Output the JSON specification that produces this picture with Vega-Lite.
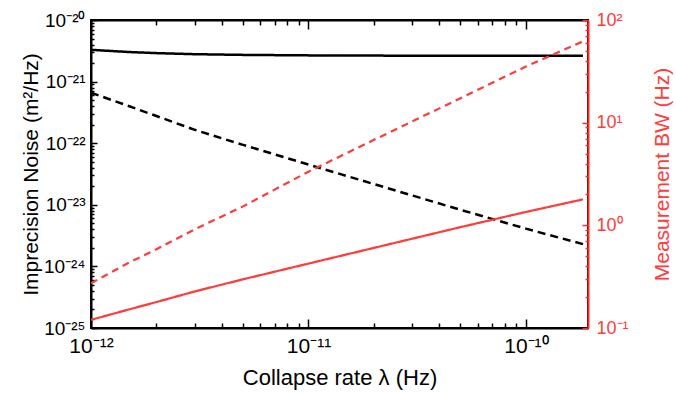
{
  "$schema": "https://vega.github.io/schema/vega-lite/v6.json",
  "width": 497,
  "height": 308,
  "autosize": "none",
  "padding": {"left": 91, "top": 20, "right": 88, "bottom": 65},
  "background": "white",
  "config": {
    "view": {"stroke": "black", "strokeWidth": 2},
    "font": "Liberation Sans",
    "axis": {"grid": false, "labelOverlap": false, "labelFlush": false, "titleFontWeight": "normal"}
  },
  "datasets": {
    "noise": [
      {"lambda": 1e-12, "value": 3.28e-21, "style": "total"},
      {"lambda": 1.5e-12, "value": 3.02e-21, "style": "total"},
      {"lambda": 2e-12, "value": 2.90e-21, "style": "total"},
      {"lambda": 3e-12, "value": 2.785e-21, "style": "total"},
      {"lambda": 5e-12, "value": 2.714e-21, "style": "total"},
      {"lambda": 1e-11, "value": 2.665e-21, "style": "total"},
      {"lambda": 2e-11, "value": 2.642e-21, "style": "total"},
      {"lambda": 5e-11, "value": 2.628e-21, "style": "total"},
      {"lambda": 1e-10, "value": 2.624e-21, "style": "total"},
      {"lambda": 1.83e-10, "value": 2.622e-21, "style": "total"},
      {"lambda": 1e-12, "value": 6.6e-22, "style": "collapse"},
      {"lambda": 1.5e-12, "value": 3.98e-22, "style": "collapse"},
      {"lambda": 2e-12, "value": 2.76e-22, "style": "collapse"},
      {"lambda": 3e-12, "value": 1.65e-22, "style": "collapse"},
      {"lambda": 5e-12, "value": 9.4e-23, "style": "collapse"},
      {"lambda": 1e-11, "value": 4.5e-23, "style": "collapse"},
      {"lambda": 2e-11, "value": 2.17e-23, "style": "collapse"},
      {"lambda": 5e-11, "value": 8.3e-24, "style": "collapse"},
      {"lambda": 1e-10, "value": 4.1e-24, "style": "collapse"},
      {"lambda": 1.83e-10, "value": 2.3e-24, "style": "collapse"}
    ],
    "bw": [
      {"lambda": 1e-12, "value": 0.120, "style": "solid"},
      {"lambda": 1.5e-12, "value": 0.152, "style": "solid"},
      {"lambda": 2e-12, "value": 0.179, "style": "solid"},
      {"lambda": 3e-12, "value": 0.227, "style": "solid"},
      {"lambda": 5e-12, "value": 0.298, "style": "solid"},
      {"lambda": 1e-11, "value": 0.424, "style": "solid"},
      {"lambda": 2e-11, "value": 0.603, "style": "solid"},
      {"lambda": 5e-11, "value": 0.96, "style": "solid"},
      {"lambda": 1e-10, "value": 1.35, "style": "solid"},
      {"lambda": 1.83e-10, "value": 1.79, "style": "solid"},
      {"lambda": 1e-12, "value": 0.273, "style": "dashed"},
      {"lambda": 1.5e-12, "value": 0.435, "style": "dashed"},
      {"lambda": 2e-12, "value": 0.585, "style": "dashed"},
      {"lambda": 3e-12, "value": 0.914, "style": "dashed"},
      {"lambda": 5e-12, "value": 1.53, "style": "dashed"},
      {"lambda": 1e-11, "value": 3.33, "style": "dashed"},
      {"lambda": 2e-11, "value": 6.8, "style": "dashed"},
      {"lambda": 5e-11, "value": 17.3, "style": "dashed"},
      {"lambda": 1e-10, "value": 35.2, "style": "dashed"},
      {"lambda": 1.83e-10, "value": 62, "style": "dashed"}
    ]
  },
  "layer": [
    {
      "data": {"name": "noise"},
      "mark": {"type": "line", "color": "black", "strokeWidth": 2.5, "clip": true},
      "encoding": {
        "x": {
          "field": "lambda", "type": "quantitative",
          "scale": {"type": "log", "domain": [1e-12, 1.93e-10], "nice": false},
          "axis": {
            "orient": "bottom",
            "values": [1e-12, 2e-12, 3e-12, 4e-12, 5e-12, 6e-12, 7e-12, 8e-12, 9e-12, 1e-11, 2e-11, 3e-11, 4e-11, 5e-11, 6e-11, 7e-11, 8e-11, 9e-11, 1e-10],
            "labelExpr": "abs(log(datum.value)/LN10 - round(log(datum.value)/LN10)) < 0.001 ? (round(log(datum.value)/LN10) == -12 ? '10⁻¹²' : round(log(datum.value)/LN10) == -11 ? '10⁻¹¹' : round(log(datum.value)/LN10) == -10 ? '10⁻¹⁰' : '') : ''",
            "tickSize": {"condition": {"test": "abs(log(datum.value)/LN10 - round(log(datum.value)/LN10)) < 0.001", "value": -9}, "value": -5},
            "tickColor": "black", "tickWidth": 1.5,
            "domainColor": "black", "domainWidth": 2,
            "labelFontSize": 21, "labelColor": "black", "labelPadding": 16,
            "title": "Collapse rate λ (Hz)", "titleFontSize": 22, "titleColor": "black", "titlePadding": 7
          }
        },
        "y": {
          "field": "value", "type": "quantitative",
          "scale": {"type": "log", "domain": [1e-25, 1e-20], "nice": false},
          "axis": {
            "orient": "left",
            "values": [1e-25, 2e-25, 3e-25, 4e-25, 5e-25, 6e-25, 7e-25, 8e-25, 9e-25, 1e-24, 2e-24, 3e-24, 4e-24, 5e-24, 6e-24, 7e-24, 8e-24, 9e-24, 1e-23, 2e-23, 3e-23, 4e-23, 5e-23, 6e-23, 7e-23, 8e-23, 9e-23, 1e-22, 2e-22, 3e-22, 4e-22, 5e-22, 6e-22, 7e-22, 8e-22, 9e-22, 1e-21, 2e-21, 3e-21, 4e-21, 5e-21, 6e-21, 7e-21, 8e-21, 9e-21, 1e-20],
            "labelExpr": "abs(log(datum.value)/LN10 - round(log(datum.value)/LN10)) < 0.001 ? (round(log(datum.value)/LN10) == -20 ? '10⁻²⁰' : round(log(datum.value)/LN10) == -21 ? '10⁻²¹' : round(log(datum.value)/LN10) == -22 ? '10⁻²²' : round(log(datum.value)/LN10) == -23 ? '10⁻²³' : round(log(datum.value)/LN10) == -24 ? '10⁻²⁴' : round(log(datum.value)/LN10) == -25 ? '10⁻²⁵' : '') : ''",
            "tickSize": {"condition": {"test": "abs(log(datum.value)/LN10 - round(log(datum.value)/LN10)) < 0.001", "value": -6}, "value": -3},
            "tickColor": "black", "tickWidth": 1.5,
            "domainColor": "black", "domainWidth": 2,
            "labelFontSize": 19, "labelColor": "black", "labelPadding": 12,
            "title": "Imprecision Noise (m²/Hz)", "titleFontSize": 21, "titleColor": "black", "titlePadding": 2
          }
        },
        "strokeDash": {
          "field": "style", "type": "nominal",
          "scale": {"domain": ["total", "collapse"], "range": [[1, 0], [8, 5]]},
          "legend": null
        }
      }
    },
    {
      "data": {"name": "bw"},
      "mark": {"type": "line", "color": "#ff3b3b", "strokeWidth": 2.2, "clip": true},
      "encoding": {
        "x": {
          "field": "lambda", "type": "quantitative",
          "scale": {"type": "log", "domain": [1e-12, 1.93e-10], "nice": false},
          "axis": {
            "orient": "top",
            "values": [1e-12, 2e-12, 3e-12, 4e-12, 5e-12, 6e-12, 7e-12, 8e-12, 9e-12, 1e-11, 2e-11, 3e-11, 4e-11, 5e-11, 6e-11, 7e-11, 8e-11, 9e-11, 1e-10],
            "labels": false,
            "tickSize": {"condition": {"test": "abs(log(datum.value)/LN10 - round(log(datum.value)/LN10)) < 0.001", "value": -9}, "value": -5},
            "tickColor": "black", "tickWidth": 1.5,
            "domainColor": "black", "domainWidth": 2,
            "title": null
          }
        },
        "y": {
          "field": "value", "type": "quantitative",
          "scale": {"type": "log", "domain": [0.1, 100], "nice": false},
          "axis": {
            "orient": "right",
            "values": [0.1, 0.2, 0.3, 0.4, 0.5, 0.6, 0.7, 0.8, 0.9, 1, 2, 3, 4, 5, 6, 7, 8, 9, 10, 20, 30, 40, 50, 60, 70, 80, 90, 100],
            "labelExpr": "abs(log(datum.value)/LN10 - round(log(datum.value)/LN10)) < 0.001 ? (round(log(datum.value)/LN10) == -1 ? '10⁻¹' : round(log(datum.value)/LN10) == 0 ? '10⁰' : round(log(datum.value)/LN10) == 1 ? '10¹' : round(log(datum.value)/LN10) == 2 ? '10²' : '') : ''",
            "tickSize": {"condition": {"test": "abs(log(datum.value)/LN10 - round(log(datum.value)/LN10)) < 0.001", "value": -6}, "value": -3},
            "tickColor": "#ff2a2a", "tickWidth": 1.5,
            "domainColor": "#ff2a2a", "domainWidth": 2,
            "labelFontSize": 18, "labelColor": "#ff3b3b", "labelPadding": 14,
            "title": "Measurement BW (Hz)", "titleFontSize": 21, "titleColor": "#ff3b3b", "titlePadding": 44, "titleAngle": 270
          }
        },
        "strokeDash": {
          "field": "style", "type": "nominal",
          "scale": {"domain": ["solid", "dashed"], "range": [[1, 0], [7, 5]]},
          "legend": null
        }
      }
    }
  ],
  "resolve": {
    "scale": {"y": "independent", "strokeDash": "independent"},
    "axis": {"x": "independent", "y": "independent"}
  }
}
